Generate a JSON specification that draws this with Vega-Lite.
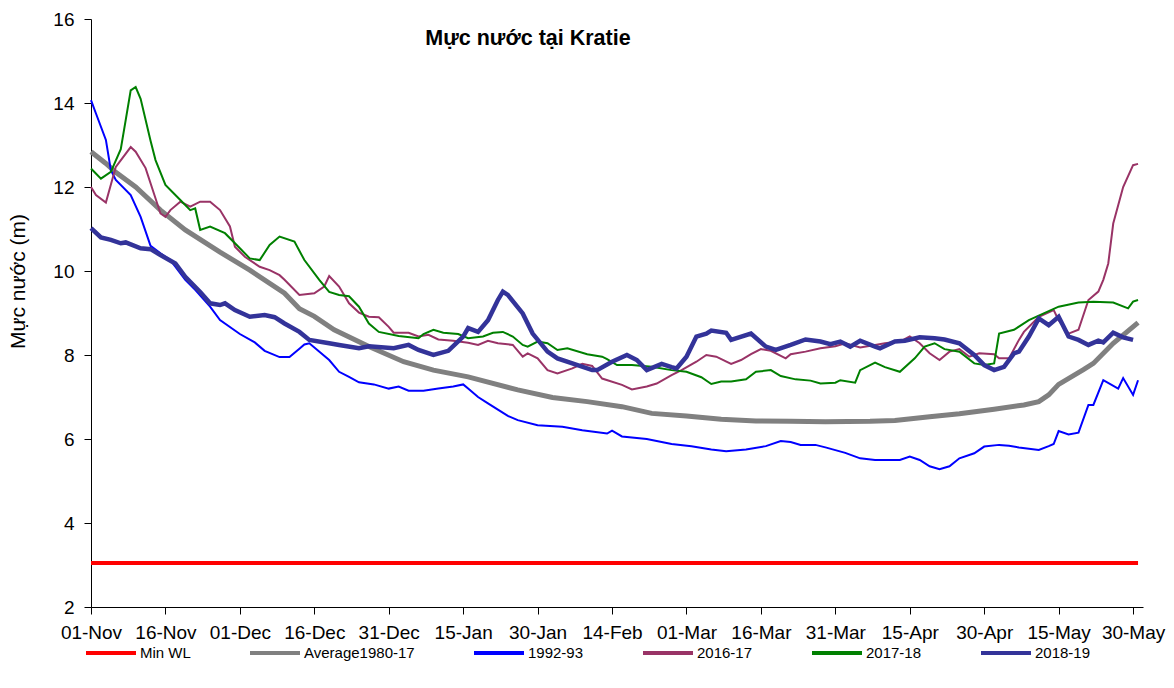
{
  "$schema": "https://vega.github.io/schema/vega-lite/v6.json",
  "width": 1052,
  "height": 588,
  "autosize": {"type": "none"},
  "padding": {"left": 91, "top": 19, "right": 31, "bottom": 81},
  "background": "white",
  "config": {
    "view": {"stroke": null},
    "font": "Liberation Sans"
  },
  "title": {
    "text": "Mực nước tại Kratie",
    "font": "Liberation Sans",
    "fontSize": 21.5,
    "fontWeight": "bold",
    "color": "#000000",
    "anchor": "middle",
    "frame": "group",
    "dx": -89,
    "offset": -39
  },
  "data": {
    "values": [
      {"series": "Min WL", "date": "2018-11-01", "wl": 3.05},
      {"series": "Min WL", "date": "2019-05-31", "wl": 3.05},

      {"series": "Average1980-17", "date": "2018-11-01", "wl": 12.84},
      {"series": "Average1980-17", "date": "2018-11-04", "wl": 12.56},
      {"series": "Average1980-17", "date": "2018-11-06", "wl": 12.35},
      {"series": "Average1980-17", "date": "2018-11-10", "wl": 12.0},
      {"series": "Average1980-17", "date": "2018-11-15", "wl": 11.45},
      {"series": "Average1980-17", "date": "2018-11-20", "wl": 10.98},
      {"series": "Average1980-17", "date": "2018-11-27", "wl": 10.45},
      {"series": "Average1980-17", "date": "2018-12-03", "wl": 10.02},
      {"series": "Average1980-17", "date": "2018-12-10", "wl": 9.47},
      {"series": "Average1980-17", "date": "2018-12-13", "wl": 9.1},
      {"series": "Average1980-17", "date": "2018-12-16", "wl": 8.92},
      {"series": "Average1980-17", "date": "2018-12-20", "wl": 8.6},
      {"series": "Average1980-17", "date": "2018-12-27", "wl": 8.2},
      {"series": "Average1980-17", "date": "2019-01-03", "wl": 7.84},
      {"series": "Average1980-17", "date": "2019-01-09", "wl": 7.64},
      {"series": "Average1980-17", "date": "2019-01-16", "wl": 7.48},
      {"series": "Average1980-17", "date": "2019-01-26", "wl": 7.17},
      {"series": "Average1980-17", "date": "2019-02-02", "wl": 6.99},
      {"series": "Average1980-17", "date": "2019-02-09", "wl": 6.89},
      {"series": "Average1980-17", "date": "2019-02-16", "wl": 6.77},
      {"series": "Average1980-17", "date": "2019-02-22", "wl": 6.61},
      {"series": "Average1980-17", "date": "2019-03-01", "wl": 6.55},
      {"series": "Average1980-17", "date": "2019-03-08", "wl": 6.47},
      {"series": "Average1980-17", "date": "2019-03-15", "wl": 6.43},
      {"series": "Average1980-17", "date": "2019-03-22", "wl": 6.42},
      {"series": "Average1980-17", "date": "2019-03-29", "wl": 6.41},
      {"series": "Average1980-17", "date": "2019-04-07", "wl": 6.42},
      {"series": "Average1980-17", "date": "2019-04-12", "wl": 6.44},
      {"series": "Average1980-17", "date": "2019-04-19", "wl": 6.53},
      {"series": "Average1980-17", "date": "2019-04-25", "wl": 6.6},
      {"series": "Average1980-17", "date": "2019-05-02", "wl": 6.71},
      {"series": "Average1980-17", "date": "2019-05-08", "wl": 6.81},
      {"series": "Average1980-17", "date": "2019-05-11", "wl": 6.89},
      {"series": "Average1980-17", "date": "2019-05-13", "wl": 7.05},
      {"series": "Average1980-17", "date": "2019-05-15", "wl": 7.3},
      {"series": "Average1980-17", "date": "2019-05-20", "wl": 7.65},
      {"series": "Average1980-17", "date": "2019-05-22", "wl": 7.8},
      {"series": "Average1980-17", "date": "2019-05-26", "wl": 8.28},
      {"series": "Average1980-17", "date": "2019-05-31", "wl": 8.77},

      {"series": "1992-93", "date": "2018-11-01", "wl": 14.07},
      {"series": "1992-93", "date": "2018-11-02", "wl": 13.75},
      {"series": "1992-93", "date": "2018-11-04", "wl": 13.12},
      {"series": "1992-93", "date": "2018-11-05", "wl": 12.4},
      {"series": "1992-93", "date": "2018-11-06", "wl": 12.17},
      {"series": "1992-93", "date": "2018-11-09", "wl": 11.81},
      {"series": "1992-93", "date": "2018-11-11", "wl": 11.29},
      {"series": "1992-93", "date": "2018-11-13", "wl": 10.6},
      {"series": "1992-93", "date": "2018-11-15", "wl": 10.42},
      {"series": "1992-93", "date": "2018-11-17", "wl": 10.26},
      {"series": "1992-93", "date": "2018-11-20", "wl": 9.79},
      {"series": "1992-93", "date": "2018-11-22", "wl": 9.55},
      {"series": "1992-93", "date": "2018-11-25", "wl": 9.15},
      {"series": "1992-93", "date": "2018-11-27", "wl": 8.83},
      {"series": "1992-93", "date": "2018-12-01", "wl": 8.5},
      {"series": "1992-93", "date": "2018-12-04", "wl": 8.3},
      {"series": "1992-93", "date": "2018-12-06", "wl": 8.1},
      {"series": "1992-93", "date": "2018-12-09", "wl": 7.95},
      {"series": "1992-93", "date": "2018-12-11", "wl": 7.95},
      {"series": "1992-93", "date": "2018-12-13", "wl": 8.15},
      {"series": "1992-93", "date": "2018-12-14", "wl": 8.25},
      {"series": "1992-93", "date": "2018-12-15", "wl": 8.28},
      {"series": "1992-93", "date": "2018-12-19", "wl": 7.88},
      {"series": "1992-93", "date": "2018-12-21", "wl": 7.6},
      {"series": "1992-93", "date": "2018-12-23", "wl": 7.48},
      {"series": "1992-93", "date": "2018-12-25", "wl": 7.35},
      {"series": "1992-93", "date": "2018-12-28", "wl": 7.3},
      {"series": "1992-93", "date": "2018-12-31", "wl": 7.2},
      {"series": "1992-93", "date": "2019-01-02", "wl": 7.25},
      {"series": "1992-93", "date": "2019-01-04", "wl": 7.15},
      {"series": "1992-93", "date": "2019-01-07", "wl": 7.15},
      {"series": "1992-93", "date": "2019-01-10", "wl": 7.2},
      {"series": "1992-93", "date": "2019-01-13", "wl": 7.25},
      {"series": "1992-93", "date": "2019-01-15", "wl": 7.3},
      {"series": "1992-93", "date": "2019-01-16", "wl": 7.2},
      {"series": "1992-93", "date": "2019-01-18", "wl": 7.0},
      {"series": "1992-93", "date": "2019-01-20", "wl": 6.85},
      {"series": "1992-93", "date": "2019-01-22", "wl": 6.7},
      {"series": "1992-93", "date": "2019-01-24", "wl": 6.55},
      {"series": "1992-93", "date": "2019-01-26", "wl": 6.45},
      {"series": "1992-93", "date": "2019-01-30", "wl": 6.33},
      {"series": "1992-93", "date": "2019-02-04", "wl": 6.29},
      {"series": "1992-93", "date": "2019-02-08", "wl": 6.21},
      {"series": "1992-93", "date": "2019-02-13", "wl": 6.13},
      {"series": "1992-93", "date": "2019-02-14", "wl": 6.2},
      {"series": "1992-93", "date": "2019-02-16", "wl": 6.06},
      {"series": "1992-93", "date": "2019-02-21", "wl": 6.0},
      {"series": "1992-93", "date": "2019-02-26", "wl": 5.88},
      {"series": "1992-93", "date": "2019-03-02", "wl": 5.83},
      {"series": "1992-93", "date": "2019-03-06", "wl": 5.75},
      {"series": "1992-93", "date": "2019-03-09", "wl": 5.71},
      {"series": "1992-93", "date": "2019-03-13", "wl": 5.75},
      {"series": "1992-93", "date": "2019-03-17", "wl": 5.83},
      {"series": "1992-93", "date": "2019-03-20", "wl": 5.95},
      {"series": "1992-93", "date": "2019-03-22", "wl": 5.93},
      {"series": "1992-93", "date": "2019-03-24", "wl": 5.86},
      {"series": "1992-93", "date": "2019-03-27", "wl": 5.86},
      {"series": "1992-93", "date": "2019-03-29", "wl": 5.8},
      {"series": "1992-93", "date": "2019-04-02", "wl": 5.67},
      {"series": "1992-93", "date": "2019-04-05", "wl": 5.54},
      {"series": "1992-93", "date": "2019-04-08", "wl": 5.5},
      {"series": "1992-93", "date": "2019-04-13", "wl": 5.5},
      {"series": "1992-93", "date": "2019-04-15", "wl": 5.58},
      {"series": "1992-93", "date": "2019-04-17", "wl": 5.5},
      {"series": "1992-93", "date": "2019-04-19", "wl": 5.35},
      {"series": "1992-93", "date": "2019-04-21", "wl": 5.28},
      {"series": "1992-93", "date": "2019-04-23", "wl": 5.35},
      {"series": "1992-93", "date": "2019-04-25", "wl": 5.54},
      {"series": "1992-93", "date": "2019-04-28", "wl": 5.66},
      {"series": "1992-93", "date": "2019-04-30", "wl": 5.82},
      {"series": "1992-93", "date": "2019-05-03", "wl": 5.86},
      {"series": "1992-93", "date": "2019-05-05", "wl": 5.84},
      {"series": "1992-93", "date": "2019-05-07", "wl": 5.8},
      {"series": "1992-93", "date": "2019-05-11", "wl": 5.74},
      {"series": "1992-93", "date": "2019-05-13", "wl": 5.83},
      {"series": "1992-93", "date": "2019-05-14", "wl": 5.88},
      {"series": "1992-93", "date": "2019-05-15", "wl": 6.19},
      {"series": "1992-93", "date": "2019-05-17", "wl": 6.11},
      {"series": "1992-93", "date": "2019-05-19", "wl": 6.15},
      {"series": "1992-93", "date": "2019-05-21", "wl": 6.81},
      {"series": "1992-93", "date": "2019-05-22", "wl": 6.81},
      {"series": "1992-93", "date": "2019-05-24", "wl": 7.4},
      {"series": "1992-93", "date": "2019-05-27", "wl": 7.2},
      {"series": "1992-93", "date": "2019-05-28", "wl": 7.45},
      {"series": "1992-93", "date": "2019-05-30", "wl": 7.05},
      {"series": "1992-93", "date": "2019-05-31", "wl": 7.4},

      {"series": "2016-17", "date": "2018-11-01", "wl": 12.0},
      {"series": "2016-17", "date": "2018-11-02", "wl": 11.81},
      {"series": "2016-17", "date": "2018-11-04", "wl": 11.63},
      {"series": "2016-17", "date": "2018-11-06", "wl": 12.48},
      {"series": "2016-17", "date": "2018-11-09", "wl": 12.95},
      {"series": "2016-17", "date": "2018-11-10", "wl": 12.84},
      {"series": "2016-17", "date": "2018-11-12", "wl": 12.45},
      {"series": "2016-17", "date": "2018-11-13", "wl": 12.09},
      {"series": "2016-17", "date": "2018-11-15", "wl": 11.37},
      {"series": "2016-17", "date": "2018-11-16", "wl": 11.29},
      {"series": "2016-17", "date": "2018-11-17", "wl": 11.45},
      {"series": "2016-17", "date": "2018-11-19", "wl": 11.65},
      {"series": "2016-17", "date": "2018-11-21", "wl": 11.53},
      {"series": "2016-17", "date": "2018-11-23", "wl": 11.65},
      {"series": "2016-17", "date": "2018-11-25", "wl": 11.65},
      {"series": "2016-17", "date": "2018-11-27", "wl": 11.45},
      {"series": "2016-17", "date": "2018-11-29", "wl": 11.06},
      {"series": "2016-17", "date": "2018-11-30", "wl": 10.58},
      {"series": "2016-17", "date": "2018-12-02", "wl": 10.34},
      {"series": "2016-17", "date": "2018-12-05", "wl": 10.1},
      {"series": "2016-17", "date": "2018-12-07", "wl": 10.02},
      {"series": "2016-17", "date": "2018-12-09", "wl": 9.9},
      {"series": "2016-17", "date": "2018-12-10", "wl": 9.79},
      {"series": "2016-17", "date": "2018-12-13", "wl": 9.43},
      {"series": "2016-17", "date": "2018-12-16", "wl": 9.47},
      {"series": "2016-17", "date": "2018-12-18", "wl": 9.63},
      {"series": "2016-17", "date": "2018-12-19", "wl": 9.88},
      {"series": "2016-17", "date": "2018-12-21", "wl": 9.63},
      {"series": "2016-17", "date": "2018-12-23", "wl": 9.23},
      {"series": "2016-17", "date": "2018-12-25", "wl": 9.01},
      {"series": "2016-17", "date": "2018-12-27", "wl": 8.91},
      {"series": "2016-17", "date": "2018-12-29", "wl": 8.9},
      {"series": "2016-17", "date": "2018-12-31", "wl": 8.67},
      {"series": "2016-17", "date": "2019-01-01", "wl": 8.53},
      {"series": "2016-17", "date": "2019-01-04", "wl": 8.53},
      {"series": "2016-17", "date": "2019-01-06", "wl": 8.44},
      {"series": "2016-17", "date": "2019-01-08", "wl": 8.48},
      {"series": "2016-17", "date": "2019-01-10", "wl": 8.37},
      {"series": "2016-17", "date": "2019-01-13", "wl": 8.34},
      {"series": "2016-17", "date": "2019-01-16", "wl": 8.29},
      {"series": "2016-17", "date": "2019-01-18", "wl": 8.24},
      {"series": "2016-17", "date": "2019-01-20", "wl": 8.34},
      {"series": "2016-17", "date": "2019-01-22", "wl": 8.28},
      {"series": "2016-17", "date": "2019-01-25", "wl": 8.24},
      {"series": "2016-17", "date": "2019-01-27", "wl": 7.96},
      {"series": "2016-17", "date": "2019-01-28", "wl": 8.04},
      {"series": "2016-17", "date": "2019-01-30", "wl": 7.92},
      {"series": "2016-17", "date": "2019-02-01", "wl": 7.64},
      {"series": "2016-17", "date": "2019-02-03", "wl": 7.56},
      {"series": "2016-17", "date": "2019-02-06", "wl": 7.68},
      {"series": "2016-17", "date": "2019-02-08", "wl": 7.79},
      {"series": "2016-17", "date": "2019-02-10", "wl": 7.74},
      {"series": "2016-17", "date": "2019-02-12", "wl": 7.44},
      {"series": "2016-17", "date": "2019-02-16", "wl": 7.29},
      {"series": "2016-17", "date": "2019-02-18", "wl": 7.18},
      {"series": "2016-17", "date": "2019-02-21", "wl": 7.25},
      {"series": "2016-17", "date": "2019-02-23", "wl": 7.32},
      {"series": "2016-17", "date": "2019-02-26", "wl": 7.52},
      {"series": "2016-17", "date": "2019-02-28", "wl": 7.64},
      {"series": "2016-17", "date": "2019-03-03", "wl": 7.84},
      {"series": "2016-17", "date": "2019-03-05", "wl": 8.0},
      {"series": "2016-17", "date": "2019-03-07", "wl": 7.96},
      {"series": "2016-17", "date": "2019-03-10", "wl": 7.79},
      {"series": "2016-17", "date": "2019-03-12", "wl": 7.88},
      {"series": "2016-17", "date": "2019-03-14", "wl": 8.02},
      {"series": "2016-17", "date": "2019-03-16", "wl": 8.14},
      {"series": "2016-17", "date": "2019-03-18", "wl": 8.1},
      {"series": "2016-17", "date": "2019-03-21", "wl": 7.92},
      {"series": "2016-17", "date": "2019-03-22", "wl": 8.02},
      {"series": "2016-17", "date": "2019-03-25", "wl": 8.08},
      {"series": "2016-17", "date": "2019-03-28", "wl": 8.16},
      {"series": "2016-17", "date": "2019-03-31", "wl": 8.21},
      {"series": "2016-17", "date": "2019-04-02", "wl": 8.28},
      {"series": "2016-17", "date": "2019-04-05", "wl": 8.18},
      {"series": "2016-17", "date": "2019-04-08", "wl": 8.24},
      {"series": "2016-17", "date": "2019-04-10", "wl": 8.28},
      {"series": "2016-17", "date": "2019-04-13", "wl": 8.32},
      {"series": "2016-17", "date": "2019-04-15", "wl": 8.44},
      {"series": "2016-17", "date": "2019-04-17", "wl": 8.28},
      {"series": "2016-17", "date": "2019-04-19", "wl": 8.04},
      {"series": "2016-17", "date": "2019-04-21", "wl": 7.88},
      {"series": "2016-17", "date": "2019-04-23", "wl": 8.08},
      {"series": "2016-17", "date": "2019-04-25", "wl": 8.14},
      {"series": "2016-17", "date": "2019-04-27", "wl": 7.96},
      {"series": "2016-17", "date": "2019-04-29", "wl": 8.04},
      {"series": "2016-17", "date": "2019-05-02", "wl": 8.02},
      {"series": "2016-17", "date": "2019-05-03", "wl": 7.92},
      {"series": "2016-17", "date": "2019-05-05", "wl": 7.92},
      {"series": "2016-17", "date": "2019-05-07", "wl": 8.36},
      {"series": "2016-17", "date": "2019-05-08", "wl": 8.55},
      {"series": "2016-17", "date": "2019-05-11", "wl": 8.91},
      {"series": "2016-17", "date": "2019-05-14", "wl": 9.07},
      {"series": "2016-17", "date": "2019-05-15", "wl": 8.83},
      {"series": "2016-17", "date": "2019-05-17", "wl": 8.51},
      {"series": "2016-17", "date": "2019-05-19", "wl": 8.6},
      {"series": "2016-17", "date": "2019-05-21", "wl": 9.31},
      {"series": "2016-17", "date": "2019-05-23", "wl": 9.51},
      {"series": "2016-17", "date": "2019-05-24", "wl": 9.79},
      {"series": "2016-17", "date": "2019-05-25", "wl": 10.18},
      {"series": "2016-17", "date": "2019-05-26", "wl": 11.13},
      {"series": "2016-17", "date": "2019-05-28", "wl": 12.0},
      {"series": "2016-17", "date": "2019-05-30", "wl": 12.52},
      {"series": "2016-17", "date": "2019-05-31", "wl": 12.55},

      {"series": "2017-18", "date": "2018-11-01", "wl": 12.44},
      {"series": "2017-18", "date": "2018-11-03", "wl": 12.2},
      {"series": "2017-18", "date": "2018-11-05", "wl": 12.36},
      {"series": "2017-18", "date": "2018-11-07", "wl": 12.9},
      {"series": "2017-18", "date": "2018-11-08", "wl": 13.6},
      {"series": "2017-18", "date": "2018-11-09", "wl": 14.3},
      {"series": "2017-18", "date": "2018-11-10", "wl": 14.38},
      {"series": "2017-18", "date": "2018-11-11", "wl": 14.1},
      {"series": "2017-18", "date": "2018-11-13", "wl": 13.1},
      {"series": "2017-18", "date": "2018-11-14", "wl": 12.64},
      {"series": "2017-18", "date": "2018-11-16", "wl": 12.05},
      {"series": "2017-18", "date": "2018-11-19", "wl": 11.69},
      {"series": "2017-18", "date": "2018-11-21", "wl": 11.45},
      {"series": "2017-18", "date": "2018-11-22", "wl": 11.49},
      {"series": "2017-18", "date": "2018-11-23", "wl": 10.98},
      {"series": "2017-18", "date": "2018-11-25", "wl": 11.06},
      {"series": "2017-18", "date": "2018-11-28", "wl": 10.9},
      {"series": "2017-18", "date": "2018-12-01", "wl": 10.54},
      {"series": "2017-18", "date": "2018-12-03", "wl": 10.3},
      {"series": "2017-18", "date": "2018-12-05", "wl": 10.26},
      {"series": "2017-18", "date": "2018-12-07", "wl": 10.62},
      {"series": "2017-18", "date": "2018-12-09", "wl": 10.82},
      {"series": "2017-18", "date": "2018-12-12", "wl": 10.7},
      {"series": "2017-18", "date": "2018-12-14", "wl": 10.26},
      {"series": "2017-18", "date": "2018-12-17", "wl": 9.79},
      {"series": "2017-18", "date": "2018-12-19", "wl": 9.5},
      {"series": "2017-18", "date": "2018-12-21", "wl": 9.43},
      {"series": "2017-18", "date": "2018-12-23", "wl": 9.4},
      {"series": "2017-18", "date": "2018-12-25", "wl": 9.15},
      {"series": "2017-18", "date": "2018-12-27", "wl": 8.75},
      {"series": "2017-18", "date": "2018-12-29", "wl": 8.55},
      {"series": "2017-18", "date": "2019-01-02", "wl": 8.45},
      {"series": "2017-18", "date": "2019-01-06", "wl": 8.4},
      {"series": "2017-18", "date": "2019-01-07", "wl": 8.5},
      {"series": "2017-18", "date": "2019-01-09", "wl": 8.6},
      {"series": "2017-18", "date": "2019-01-11", "wl": 8.53},
      {"series": "2017-18", "date": "2019-01-14", "wl": 8.5},
      {"series": "2017-18", "date": "2019-01-16", "wl": 8.4},
      {"series": "2017-18", "date": "2019-01-19", "wl": 8.44},
      {"series": "2017-18", "date": "2019-01-21", "wl": 8.53},
      {"series": "2017-18", "date": "2019-01-23", "wl": 8.55},
      {"series": "2017-18", "date": "2019-01-25", "wl": 8.44},
      {"series": "2017-18", "date": "2019-01-27", "wl": 8.24},
      {"series": "2017-18", "date": "2019-01-28", "wl": 8.2},
      {"series": "2017-18", "date": "2019-01-30", "wl": 8.32},
      {"series": "2017-18", "date": "2019-02-01", "wl": 8.28},
      {"series": "2017-18", "date": "2019-02-03", "wl": 8.12},
      {"series": "2017-18", "date": "2019-02-05", "wl": 8.16},
      {"series": "2017-18", "date": "2019-02-09", "wl": 8.02},
      {"series": "2017-18", "date": "2019-02-12", "wl": 7.96},
      {"series": "2017-18", "date": "2019-02-13", "wl": 7.9},
      {"series": "2017-18", "date": "2019-02-15", "wl": 7.76},
      {"series": "2017-18", "date": "2019-02-18", "wl": 7.76},
      {"series": "2017-18", "date": "2019-02-22", "wl": 7.72},
      {"series": "2017-18", "date": "2019-02-26", "wl": 7.64},
      {"series": "2017-18", "date": "2019-03-01", "wl": 7.6},
      {"series": "2017-18", "date": "2019-03-04", "wl": 7.47},
      {"series": "2017-18", "date": "2019-03-06", "wl": 7.31},
      {"series": "2017-18", "date": "2019-03-08", "wl": 7.37},
      {"series": "2017-18", "date": "2019-03-10", "wl": 7.37},
      {"series": "2017-18", "date": "2019-03-13", "wl": 7.42},
      {"series": "2017-18", "date": "2019-03-15", "wl": 7.6},
      {"series": "2017-18", "date": "2019-03-18", "wl": 7.64},
      {"series": "2017-18", "date": "2019-03-20", "wl": 7.5},
      {"series": "2017-18", "date": "2019-03-23", "wl": 7.42},
      {"series": "2017-18", "date": "2019-03-26", "wl": 7.39},
      {"series": "2017-18", "date": "2019-03-28", "wl": 7.32},
      {"series": "2017-18", "date": "2019-03-31", "wl": 7.34},
      {"series": "2017-18", "date": "2019-04-01", "wl": 7.4},
      {"series": "2017-18", "date": "2019-04-04", "wl": 7.34},
      {"series": "2017-18", "date": "2019-04-05", "wl": 7.64},
      {"series": "2017-18", "date": "2019-04-08", "wl": 7.82},
      {"series": "2017-18", "date": "2019-04-10", "wl": 7.71},
      {"series": "2017-18", "date": "2019-04-13", "wl": 7.6},
      {"series": "2017-18", "date": "2019-04-16", "wl": 7.92},
      {"series": "2017-18", "date": "2019-04-18", "wl": 8.2},
      {"series": "2017-18", "date": "2019-04-20", "wl": 8.28},
      {"series": "2017-18", "date": "2019-04-22", "wl": 8.14},
      {"series": "2017-18", "date": "2019-04-25", "wl": 8.08},
      {"series": "2017-18", "date": "2019-04-28", "wl": 7.8},
      {"series": "2017-18", "date": "2019-04-30", "wl": 7.76},
      {"series": "2017-18", "date": "2019-05-02", "wl": 7.8},
      {"series": "2017-18", "date": "2019-05-03", "wl": 8.51},
      {"series": "2017-18", "date": "2019-05-06", "wl": 8.6},
      {"series": "2017-18", "date": "2019-05-09", "wl": 8.83},
      {"series": "2017-18", "date": "2019-05-12", "wl": 8.99},
      {"series": "2017-18", "date": "2019-05-15", "wl": 9.15},
      {"series": "2017-18", "date": "2019-05-19", "wl": 9.25},
      {"series": "2017-18", "date": "2019-05-22", "wl": 9.27},
      {"series": "2017-18", "date": "2019-05-26", "wl": 9.25},
      {"series": "2017-18", "date": "2019-05-29", "wl": 9.11},
      {"series": "2017-18", "date": "2019-05-30", "wl": 9.27},
      {"series": "2017-18", "date": "2019-05-31", "wl": 9.31},

      {"series": "2018-19", "date": "2018-11-01", "wl": 11.02},
      {"series": "2018-19", "date": "2018-11-03", "wl": 10.8},
      {"series": "2018-19", "date": "2018-11-05", "wl": 10.74},
      {"series": "2018-19", "date": "2018-11-07", "wl": 10.66},
      {"series": "2018-19", "date": "2018-11-08", "wl": 10.68},
      {"series": "2018-19", "date": "2018-11-11", "wl": 10.54},
      {"series": "2018-19", "date": "2018-11-13", "wl": 10.52},
      {"series": "2018-19", "date": "2018-11-15", "wl": 10.38},
      {"series": "2018-19", "date": "2018-11-18", "wl": 10.18},
      {"series": "2018-19", "date": "2018-11-20", "wl": 9.86},
      {"series": "2018-19", "date": "2018-11-23", "wl": 9.5},
      {"series": "2018-19", "date": "2018-11-25", "wl": 9.23},
      {"series": "2018-19", "date": "2018-11-27", "wl": 9.19},
      {"series": "2018-19", "date": "2018-11-28", "wl": 9.23},
      {"series": "2018-19", "date": "2018-11-30", "wl": 9.07},
      {"series": "2018-19", "date": "2018-12-03", "wl": 8.91},
      {"series": "2018-19", "date": "2018-12-06", "wl": 8.95},
      {"series": "2018-19", "date": "2018-12-08", "wl": 8.9},
      {"series": "2018-19", "date": "2018-12-10", "wl": 8.75},
      {"series": "2018-19", "date": "2018-12-13", "wl": 8.55},
      {"series": "2018-19", "date": "2018-12-15", "wl": 8.36},
      {"series": "2018-19", "date": "2018-12-19", "wl": 8.28},
      {"series": "2018-19", "date": "2018-12-21", "wl": 8.24},
      {"series": "2018-19", "date": "2018-12-25", "wl": 8.16},
      {"series": "2018-19", "date": "2018-12-27", "wl": 8.21},
      {"series": "2018-19", "date": "2019-01-01", "wl": 8.16},
      {"series": "2018-19", "date": "2019-01-04", "wl": 8.24},
      {"series": "2018-19", "date": "2019-01-06", "wl": 8.12},
      {"series": "2018-19", "date": "2019-01-09", "wl": 8.0},
      {"series": "2018-19", "date": "2019-01-12", "wl": 8.1},
      {"series": "2018-19", "date": "2019-01-15", "wl": 8.44},
      {"series": "2018-19", "date": "2019-01-16", "wl": 8.64},
      {"series": "2018-19", "date": "2019-01-18", "wl": 8.55},
      {"series": "2018-19", "date": "2019-01-20", "wl": 8.83},
      {"series": "2018-19", "date": "2019-01-22", "wl": 9.31},
      {"series": "2018-19", "date": "2019-01-23", "wl": 9.51},
      {"series": "2018-19", "date": "2019-01-24", "wl": 9.43},
      {"series": "2018-19", "date": "2019-01-27", "wl": 8.99},
      {"series": "2018-19", "date": "2019-01-29", "wl": 8.51},
      {"series": "2018-19", "date": "2019-02-01", "wl": 8.08},
      {"series": "2018-19", "date": "2019-02-03", "wl": 7.92},
      {"series": "2018-19", "date": "2019-02-06", "wl": 7.8},
      {"series": "2018-19", "date": "2019-02-10", "wl": 7.64},
      {"series": "2018-19", "date": "2019-02-11", "wl": 7.64},
      {"series": "2018-19", "date": "2019-02-14", "wl": 7.84},
      {"series": "2018-19", "date": "2019-02-17", "wl": 8.0},
      {"series": "2018-19", "date": "2019-02-19", "wl": 7.88},
      {"series": "2018-19", "date": "2019-02-21", "wl": 7.64},
      {"series": "2018-19", "date": "2019-02-24", "wl": 7.79},
      {"series": "2018-19", "date": "2019-02-26", "wl": 7.71},
      {"series": "2018-19", "date": "2019-02-27", "wl": 7.68},
      {"series": "2018-19", "date": "2019-03-01", "wl": 7.96},
      {"series": "2018-19", "date": "2019-03-03", "wl": 8.44},
      {"series": "2018-19", "date": "2019-03-05", "wl": 8.51},
      {"series": "2018-19", "date": "2019-03-06", "wl": 8.58},
      {"series": "2018-19", "date": "2019-03-09", "wl": 8.53},
      {"series": "2018-19", "date": "2019-03-10", "wl": 8.36},
      {"series": "2018-19", "date": "2019-03-14", "wl": 8.51},
      {"series": "2018-19", "date": "2019-03-17", "wl": 8.2},
      {"series": "2018-19", "date": "2019-03-19", "wl": 8.12},
      {"series": "2018-19", "date": "2019-03-22", "wl": 8.24},
      {"series": "2018-19", "date": "2019-03-25", "wl": 8.37},
      {"series": "2018-19", "date": "2019-03-28", "wl": 8.32},
      {"series": "2018-19", "date": "2019-03-30", "wl": 8.26},
      {"series": "2018-19", "date": "2019-04-01", "wl": 8.32},
      {"series": "2018-19", "date": "2019-04-03", "wl": 8.2},
      {"series": "2018-19", "date": "2019-04-05", "wl": 8.34},
      {"series": "2018-19", "date": "2019-04-08", "wl": 8.2},
      {"series": "2018-19", "date": "2019-04-09", "wl": 8.16},
      {"series": "2018-19", "date": "2019-04-12", "wl": 8.32},
      {"series": "2018-19", "date": "2019-04-14", "wl": 8.34},
      {"series": "2018-19", "date": "2019-04-17", "wl": 8.42},
      {"series": "2018-19", "date": "2019-04-20", "wl": 8.4},
      {"series": "2018-19", "date": "2019-04-22", "wl": 8.37},
      {"series": "2018-19", "date": "2019-04-25", "wl": 8.28},
      {"series": "2018-19", "date": "2019-04-28", "wl": 8.0},
      {"series": "2018-19", "date": "2019-04-30", "wl": 7.76},
      {"series": "2018-19", "date": "2019-05-02", "wl": 7.64},
      {"series": "2018-19", "date": "2019-05-04", "wl": 7.72},
      {"series": "2018-19", "date": "2019-05-06", "wl": 8.04},
      {"series": "2018-19", "date": "2019-05-07", "wl": 8.08},
      {"series": "2018-19", "date": "2019-05-09", "wl": 8.44},
      {"series": "2018-19", "date": "2019-05-11", "wl": 8.87},
      {"series": "2018-19", "date": "2019-05-13", "wl": 8.71},
      {"series": "2018-19", "date": "2019-05-15", "wl": 8.91},
      {"series": "2018-19", "date": "2019-05-17", "wl": 8.44},
      {"series": "2018-19", "date": "2019-05-19", "wl": 8.36},
      {"series": "2018-19", "date": "2019-05-21", "wl": 8.24},
      {"series": "2018-19", "date": "2019-05-23", "wl": 8.34},
      {"series": "2018-19", "date": "2019-05-24", "wl": 8.3},
      {"series": "2018-19", "date": "2019-05-26", "wl": 8.53},
      {"series": "2018-19", "date": "2019-05-28", "wl": 8.42},
      {"series": "2018-19", "date": "2019-05-30", "wl": 8.36}
    ]
  },
  "encoding": {
    "x": {
      "field": "date",
      "type": "temporal",
      "scale": {"type": "utc", "domain": [1541030400000, 1559347200000]},
      "axis": {
        "title": null,
        "values": [1541030400000, 1542326400000, 1543622400000, 1544918400000, 1546214400000, 1547510400000, 1548806400000, 1550102400000, 1551398400000, 1552694400000, 1553990400000, 1555286400000, 1556582400000, 1557878400000, 1559174400000],
        "labelExpr": "utcFormat(datum.value, '%d-%b')",
        "labelFont": "Liberation Sans",
        "labelFontSize": 19,
        "labelColor": "#000000",
        "labelPadding": 9,
        "labelOverlap": false,
        "labelFlush": false,
        "tickSize": 7,
        "tickColor": "#000000",
        "tickWidth": 1,
        "domainColor": "#000000",
        "domainWidth": 1,
        "grid": false
      }
    },
    "y": {
      "field": "wl",
      "type": "quantitative",
      "scale": {"domain": [2, 16], "nice": false, "zero": false},
      "axis": {
        "title": "Mực nước (m)",
        "titleFont": "Liberation Sans",
        "titleFontSize": 21,
        "titleFontWeight": "normal",
        "titleColor": "#000000",
        "titleX": -73,
        "titleY": 262,
        "titleAngle": -90,
        "titleBaseline": "middle",
        "titleAlign": "center",
        "values": [2, 4, 6, 8, 10, 12, 14, 16],
        "labelFont": "Liberation Sans",
        "labelFontSize": 19,
        "labelColor": "#000000",
        "labelPadding": 10,
        "tickSize": 7,
        "tickColor": "#000000",
        "domainColor": "#000000",
        "domainWidth": 1,
        "grid": false
      }
    },
    "color": {
      "field": "series",
      "type": "nominal",
      "scale": {
        "domain": ["Min WL", "Average1980-17", "1992-93", "2016-17", "2017-18", "2018-19"],
        "range": ["#ff0000", "#808080", "#0000ff", "#993366", "#008000", "#333399"]
      },
      "legend": {
        "title": null,
        "orient": "none",
        "legendX": -7,
        "legendY": 607,
        "direction": "horizontal",
        "columns": 6,
        "columnPadding": 51,
        "symbolType": "stroke",
        "symbolSize": 2500,
        "symbolStrokeWidth": 4,
        "labelFont": "Liberation Sans",
        "labelFontSize": 15,
        "labelColor": "#000000",
        "labelOffset": 2,
        "labelLimit": 300
      }
    }
  },
  "layer": [
    {"transform": [{"filter": "datum.series === 'Min WL'"}], "mark": {"type": "line", "strokeWidth": 4}},
    {"transform": [{"filter": "datum.series === 'Average1980-17'"}], "mark": {"type": "line", "strokeWidth": 5}},
    {"transform": [{"filter": "datum.series === '1992-93'"}], "mark": {"type": "line", "strokeWidth": 2}},
    {"transform": [{"filter": "datum.series === '2016-17'"}], "mark": {"type": "line", "strokeWidth": 2}},
    {"transform": [{"filter": "datum.series === '2017-18'"}], "mark": {"type": "line", "strokeWidth": 2}},
    {"transform": [{"filter": "datum.series === '2018-19'"}], "mark": {"type": "line", "strokeWidth": 4.5}}
  ]
}
